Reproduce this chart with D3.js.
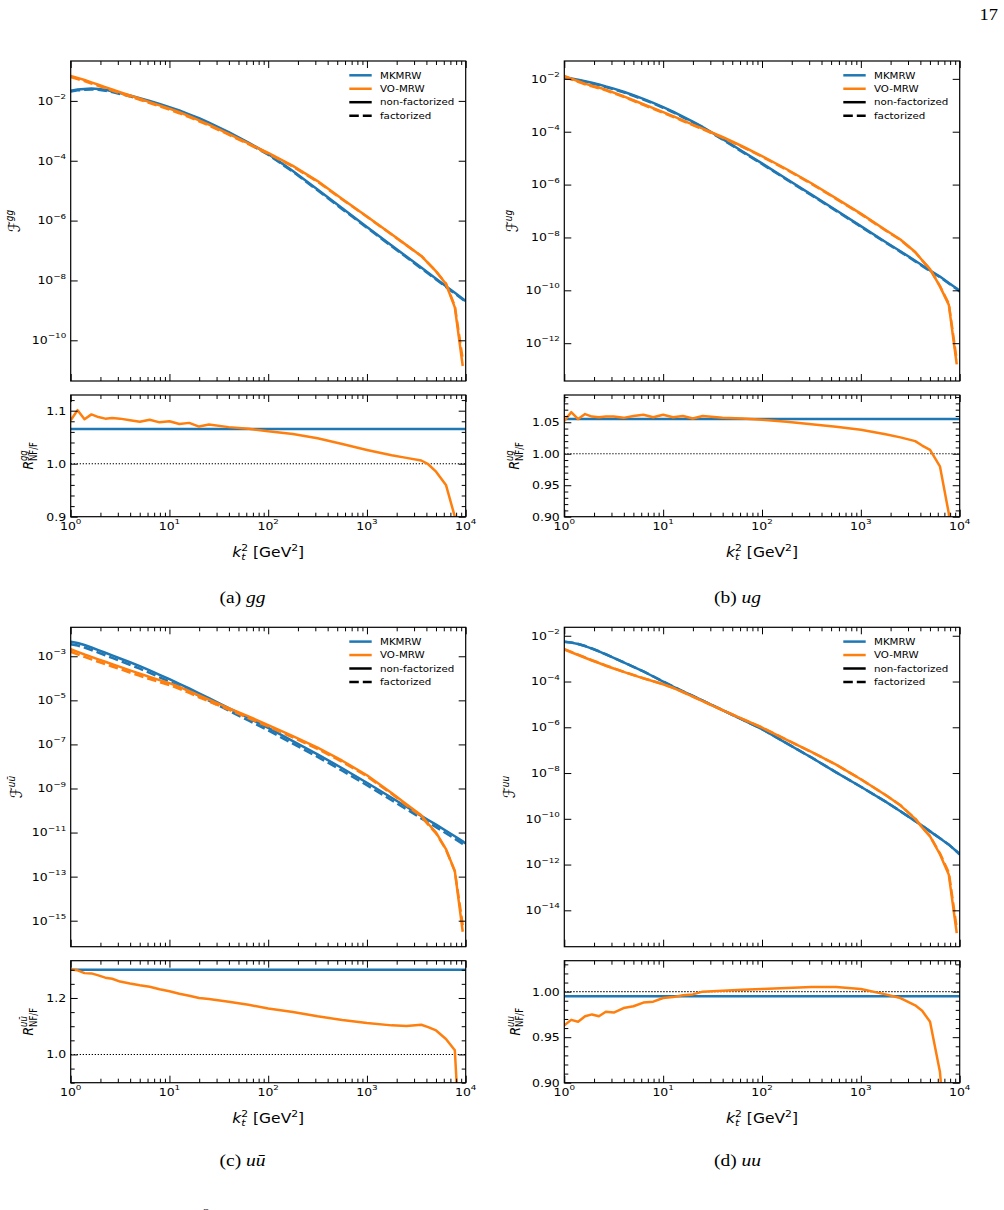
<!DOCTYPE html>
<html>
<head>
<meta charset="utf-8">
<script src="https://cdn.jsdelivr.net/npm/d3@7"></script>
<style>
  body { margin: 0; background: #fff; overflow: hidden; }
  svg { display: block; }
  text { font-family: "DejaVu Sans", sans-serif; fill: #000; }
  .serif { font-family: "Liberation Serif", "DejaVu Serif", serif; }
</style>
</head>
<body>
<script>

// k_t^2 grid shared by all four panels [GeV^2]
const kt2 = [1, 1.175, 1.38, 1.622, 1.905, 2.239, 2.63, 3.162, 3.981, 5.012, 6.31, 7.943, 10, 12.59, 15.85, 19.95,
    25.12, 39.81, 63.1, 100, 177.8, 316.2, 562.3, 1000, 1778, 2512, 3548, 4169, 5012, 6310, 7762, 9333, 10000];

// log10 of the non-factorized luminosity F
const ggMK = [-1.66, -1.62, -1.60, -1.59, -1.60, -1.63, -1.68, -1.74, -1.82, -1.91, -2.00, -2.10, -2.21, -2.32, -2.45, -2.58,
    -2.73, -3.04, -3.39, -3.77, -4.34, -4.96, -5.59, -6.21, -6.83, -7.20, -7.57, -7.74, -7.94, -8.19, -8.41, -8.61, -8.69];
const ggVO = [-1.17, -1.23, -1.30, -1.38, -1.46, -1.54, -1.62, -1.71, -1.82, -1.93, -2.04, -2.15, -2.26, -2.38, -2.51, -2.65,
    -2.79, -3.10, -3.42, -3.74, -4.17, -4.68, -5.28, -5.86, -6.46, -6.82, -7.18, -7.42, -7.70, -8.12, -8.90, -10.86, null];
const ugMK = [-1.94, -1.985, -2.03, -2.09, -2.15, -2.21, -2.29, -2.37, -2.49, -2.62, -2.76, -2.91, -3.07, -3.24, -3.43, -3.62,
    -3.82, -4.27, -4.74, -5.20, -5.79, -6.38, -6.97, -7.57, -8.17, -8.52, -8.88, -9.05, -9.25, -9.48, -9.72, -9.93, -10.02];
const ugVO = [-1.89, -1.99, -2.09, -2.18, -2.26, -2.33, -2.41, -2.52, -2.66, -2.81, -2.96, -3.11, -3.26, -3.41, -3.57, -3.73,
    -3.88, -4.20, -4.55, -4.92, -5.42, -5.95, -6.52, -7.10, -7.72, -8.08, -8.55, -8.86, -9.20, -9.85, -10.55, -12.80, null];
const uubMK = [-2.34, -2.40, -2.49, -2.60, -2.72, -2.84, -2.96, -3.10, -3.27, -3.45, -3.64, -3.84, -4.04, -4.25, -4.46, -4.68,
    -4.90, -5.35, -5.80, -6.25, -6.85, -7.45, -8.08, -8.74, -9.42, -9.83, -10.24, -10.43, -10.64, -10.92, -11.17, -11.40, -11.50];
const uubVO = [-2.68, -2.80, -2.92, -3.03, -3.14, -3.25, -3.36, -3.48, -3.64, -3.79, -3.94, -4.08, -4.22, -4.39, -4.58, -4.78,
    -4.97, -5.35, -5.73, -6.12, -6.62, -7.15, -7.74, -8.40, -9.20, -9.72, -10.22, -10.60, -11.00, -11.75, -12.75, -15.50, null];
const uuMK = [-2.26, -2.30, -2.36, -2.45, -2.56, -2.68, -2.81, -2.97, -3.16, -3.36, -3.56, -3.78, -4.00, -4.22, -4.43, -4.63,
    -4.84, -5.25, -5.66, -6.08, -6.70, -7.32, -7.97, -8.60, -9.25, -9.67, -10.10, -10.30, -10.55, -10.85, -11.13, -11.43, -11.55];
const uuVO = [-2.60, -2.72, -2.84, -2.96, -3.08, -3.19, -3.31, -3.43, -3.58, -3.72, -3.86, -3.99, -4.12, -4.28, -4.46, -4.66,
    -4.86, -5.25, -5.63, -6.01, -6.55, -7.08, -7.63, -8.27, -8.96, -9.41, -10.00, -10.38, -10.77, -11.55, -12.45, -15.00, null];

// ratio R = non-factorized / factorized (lower plots)
const ggVOratio = [1.082, 1.101, 1.084, 1.093, 1.088, 1.085, 1.086, 1.085, 1.082, 1.079, 1.083, 1.078, 1.080, 1.075, 1.077, 1.070,
    1.074, 1.069, 1.066, 1.061, 1.056, 1.048, 1.037, 1.026, 1.016, 1.011, 1.006, 0.999, 0.985, 0.960, 0.900, 0.600, null];
const ugVOratio = [1.052, 1.066, 1.055, 1.063, 1.059, 1.058, 1.059, 1.059, 1.057, 1.060, 1.062, 1.058, 1.062, 1.058, 1.060, 1.056,
    1.060, 1.057, 1.056, 1.054, 1.051, 1.047, 1.043, 1.038, 1.031, 1.026, 1.020, 1.013, 1.006, 0.980, 0.905, 0.700, null];
const uubVOratio = [1.301, 1.298, 1.288, 1.287, 1.280, 1.272, 1.268, 1.258, 1.251, 1.245, 1.240, 1.231, 1.224, 1.215, 1.208, 1.200,
    1.196, 1.187, 1.176, 1.163, 1.150, 1.135, 1.122, 1.111, 1.103, 1.101, 1.105, 1.097, 1.085, 1.055, 1.015, 0.500, null];
const uuVOratio = [0.963, 0.969, 0.967, 0.973, 0.975, 0.973, 0.978, 0.977, 0.982, 0.984, 0.988, 0.989, 0.993, 0.994, 0.996, 0.997,
    1.000, 1.001, 1.002, 1.003, 1.004, 1.005, 1.005, 1.003, 0.997, 0.993, 0.985, 0.979, 0.967, 0.912, 0.800, 0.600, null];
// MKMRW ratio is flat
const mkRatio = {gg: 1.0655, ug: 1.055, uub: 1.30, uu: 0.995};

const legendLabels = ["MKMRW", "VO-MRW", "non-factorized", "factorized"];

const blue = "#1f77b4", orange = "#ff7f0e";
const SY = 0.85;   // the page picture is squeezed vertically, so text is too

// layout of the four sub-figures
const panels = [
    {key: "gg", sup: "gg", cap: "(a) ", x0: 70.7, x1: 465.7, yM: [61, 381], yR: [395, 516.7],
        mainExp: [-11.36, -0.667], mainTicks: [-2, -4, -6, -8, -10],
        rDom: [0.9, 1.1296], rMajor: [0.9, 1.0, 1.1], rDec: 1, rMinor: 0.02,
        mk: ggMK, vo: ggVO, voR: ggVOratio, fLab: -51, rLab: -37.5, capX: 242.5, capY: 602.5},
    {key: "ug", sup: "ug", cap: "(b) ", x0: 564.3, x1: 959.7, yM: [61, 381], yR: [395, 516.7],
        mainExp: [-13.43, -1.325], mainTicks: [-2, -4, -6, -8, -10, -12],
        rDom: [0.9, 1.0933], rMajor: [0.9, 0.95, 1.0, 1.05], rDec: 2, rMinor: 0.01,
        mk: ugMK, vo: ugVO, voR: ugVOratio, fLab: -46, rLab: -45, capX: 737.5, capY: 602.5},
    {key: "uub", sup: "u\u016B", cap: "(c) ", x0: 70.7, x1: 465.7, yM: [627.3, 946.7], yR: [960.7, 1082.7],
        mainExp: [-16.18, -1.685], mainTicks: [-3, -5, -7, -9, -11, -13, -15],
        rDom: [0.9, 1.332], rMajor: [1.0, 1.2], rDec: 1, rMinor: 0.05,
        mk: uubMK, vo: uubVO, voR: uubVOratio, fLab: -49, rLab: -37.5, capX: 242.5, capY: 1166},
    {key: "uu", sup: "uu", cap: "(d) ", x0: 564.3, x1: 959.7, yM: [627.3, 946.7], yR: [960.7, 1082.7],
        mainExp: [-15.59, -1.63], mainTicks: [-2, -4, -6, -8, -10, -12, -14],
        rDom: [0.9, 1.034], rMajor: [0.9, 0.95, 1.0], rDec: 2, rMinor: 0.01,
        mk: uuMK, vo: uuVO, voR: uuVOratio, fLab: -49, rLab: -44.5, capX: 737.5, capY: 1166}
];

const svg = d3.select("body").append("svg").attr("width", 1004).attr("height", 1210);
svg.append("rect").attr("width", 1004).attr("height", 1210).attr("fill", "#fff");
const defs = svg.append("defs");

// text squeezed like the rest of the page
function stext(g, x, y, size, rotate) {
    return g.append("g")
        .attr("transform", "translate(" + x + "," + y + ") scale(1," + SY + ")" + (rotate ? " rotate(-90)" : ""))
        .append("text")
        .attr("font-size", size);
}

function centre(t) {
    const b = t.node().getBBox();
    t.attr("x", -(b.x + b.width / 2));
}

function pow10(t, e, size) {
    t.append("tspan").text("10");
    t.append("tspan").attr("font-size", size * 0.7).attr("dy", -size * 0.55)
        .text(e < 0 ? "\u2212" + (-e) : String(e));
}

const tickFs = 12.5;
const xMajor = [1, 10, 100, 1000, 10000];
const xMinor = [];
[1, 10, 100, 1000].forEach(d => d3.range(2, 10).forEach(m => xMinor.push(d * m)));

// ticks pointing inwards on all four sides
function frameTicks(g, x, y, top, bottom, yMajor, yMinor) {
    const add = (axis, tr) => g.append("g").attr("transform", tr).call(axis)
        .call(a => a.select(".domain").remove());
    [[7, xMajor], [4, xMinor]].forEach(([len, vals]) => {
        add(d3.axisBottom(x).tickValues(vals).tickSize(-len).tickFormat(""), "translate(0," + bottom + ")");
        add(d3.axisTop(x).tickValues(vals).tickSize(-len).tickFormat(""), "translate(0," + top + ")");
    });
    [[7, yMajor], [4, yMinor]].forEach(([len, vals]) => {
        add(d3.axisLeft(y).tickValues(vals).tickSize(-len).tickFormat(""), "translate(" + x.range()[0] + ",0)");
        add(d3.axisRight(y).tickValues(vals).tickSize(-len).tickFormat(""), "translate(" + x.range()[1] + ",0)");
    });
    g.selectAll(".tick line").attr("stroke", "#000").attr("stroke-width", 1);
    g.append("rect")
        .attr("x", x.range()[0]).attr("y", top)
        .attr("width", x.range()[1] - x.range()[0]).attr("height", bottom - top)
        .attr("fill", "none").attr("stroke", "#000").attr("stroke-width", 1.2);
}

panels.forEach((p, pi) => {
    const g = svg.append("g");
    const x = d3.scaleLog().domain([1, 1e4]).range([p.x0, p.x1]);
    const yM = d3.scaleLog().domain([10 ** p.mainExp[0], 10 ** p.mainExp[1]]).range([p.yM[1], p.yM[0]]);
    const yR = d3.scaleLinear().domain(p.rDom).range([p.yR[1], p.yR[0]]);

    const rows = kt2.map((k, i) => ({
        k: k,
        mk: p.mk[i],
        vo: p.vo[i],
        r: p.voR[i]
    }));

    // clip regions
    ["m", "r"].forEach(s => {
        const yy = s === "m" ? p.yM : p.yR;
        defs.append("clipPath").attr("id", "clip-" + s + pi)
            .append("rect").attr("x", p.x0).attr("y", yy[0])
            .attr("width", p.x1 - p.x0).attr("height", yy[1] - yy[0]);
    });

    // ---- main panel
    const gm = g.append("g").attr("clip-path", "url(#clip-m" + pi + ")");
    const lineM = acc => d3.line()
        .defined(d => acc(d) != null)
        .x(d => x(d.k))
        .y(d => yM(10 ** acc(d)));

    const mkF = d => d.mk - Math.log10(mkRatio[p.key]);
    const voF = d => (d.vo == null || d.r == null) ? null : d.vo - Math.log10(d.r);

    const series = [
        {acc: d => d.mk, color: blue, dash: null},
        {acc: mkF, color: blue, dash: "9.5,4"},
        {acc: d => d.vo, color: orange, dash: null},
        {acc: voF, color: orange, dash: "9.5,4"}
    ];
    series.forEach(s => {
        gm.append("path").datum(rows)
            .attr("d", lineM(s.acc))
            .attr("fill", "none")
            .attr("stroke", s.color)
            .attr("stroke-width", 2.5)
            .attr("stroke-dasharray", s.dash)
            .attr("stroke-linejoin", "round");
    });

    frameTicks(g, x, yM, p.yM[0], p.yM[1], p.mainTicks.map(e => 10 ** e), []);

    p.mainTicks.forEach(e => {
        const t = stext(g, p.x0 - 4.5, yM(10 ** e) + 3.9, tickFs).attr("text-anchor", "end");
        pow10(t, e, tickFs);
    });

    // legend
    const legend = [
        {color: blue, dash: null},
        {color: orange, dash: null},
        {color: "#000", dash: null},
        {color: "#000", dash: "9.5,4"}
    ];
    legend.forEach((l, i) => {
        const ly = p.yM[0] + 14.3 + i * 13.45;
        g.append("line")
            .attr("x1", p.x1 - 116.4).attr("x2", p.x1 - 94)
            .attr("y1", ly).attr("y2", ly)
            .attr("stroke", l.color).attr("stroke-width", 2.5)
            .attr("stroke-dasharray", l.dash);
        stext(g, p.x1 - 85.7, ly + 3.2, 10.3).text(legendLabels[i]);
    });

    // main y label: script F with channel superscript
    const fl = stext(g, p.x0 + p.fLab, (p.yM[0] + p.yM[1]) / 2, 16.5, true);
    fl.append("tspan").text("\u2131");
    fl.append("tspan").attr("font-size", 10.5).attr("font-style", "italic").attr("dy", -6.5).text(p.sup);
    centre(fl);

    // ---- ratio panel
    const gr = g.append("g").attr("clip-path", "url(#clip-r" + pi + ")");
    gr.append("line")
        .attr("x1", p.x0).attr("x2", p.x1)
        .attr("y1", yR(1)).attr("y2", yR(1))
        .attr("stroke", "#000").attr("stroke-width", 1.1)
        .attr("stroke-dasharray", "1.3,1.7");
    gr.append("line")
        .attr("x1", p.x0).attr("x2", p.x1)
        .attr("y1", yR(mkRatio[p.key])).attr("y2", yR(mkRatio[p.key]))
        .attr("stroke", blue).attr("stroke-width", 2.5);
    gr.append("path").datum(rows)
        .attr("d", d3.line().defined(d => d.r != null).x(d => x(d.k)).y(d => yR(d.r)))
        .attr("fill", "none")
        .attr("stroke", orange)
        .attr("stroke-width", 2.5)
        .attr("stroke-linejoin", "round");

    const lo = p.rDom[0], hi = p.rDom[1];
    const minor = d3.range(Math.ceil(lo / p.rMinor - 1e-6), Math.floor(hi / p.rMinor + 1e-6) + 1)
        .map(i => i * p.rMinor)
        .filter(v => !p.rMajor.some(m => Math.abs(m - v) < 1e-6));
    frameTicks(g, x, yR, p.yR[0], p.yR[1], p.rMajor, minor);

    p.rMajor.forEach(v => {
        stext(g, p.x0 - 4.5, yR(v) + 3.9, tickFs).attr("text-anchor", "end").text(v.toFixed(p.rDec));
    });
    xMajor.forEach((v, i) => {
        const t = stext(g, x(v), p.yR[1] + 12.8, tickFs).attr("text-anchor", "middle");
        pow10(t, i, tickFs);
    });

    // ratio y label R^{ch}_{NF/F}
    const rl = stext(g, p.x0 + p.rLab, (p.yR[0] + p.yR[1]) / 2, 14.5, true);
    rl.append("tspan").attr("font-style", "italic").text("R");
    const sp = rl.append("tspan").attr("font-size", 10).attr("font-style", "italic").attr("dy", -6).text(p.sup);
    const spw = sp.node().getComputedTextLength();
    rl.append("tspan").attr("font-size", 10).attr("dx", -spw).attr("dy", 9.5).text("NF/F");
    centre(rl);

    // x label k_t^2 [GeV^2]
    const xl = stext(g, (p.x0 + p.x1) / 2, p.yR[1] + 40, 15.5);
    xl.append("tspan").attr("font-style", "italic").text("k");
    xl.append("tspan").attr("font-size", 10.8).attr("font-style", "italic").attr("dy", 4).text("t");
    xl.append("tspan").attr("font-size", 10.8).attr("dx", -4.2).attr("dy", -11).text("2");
    xl.append("tspan").attr("dy", 7).text(" [GeV");
    xl.append("tspan").attr("font-size", 10.8).attr("dy", -7).text("2");
    xl.append("tspan").attr("dy", 7).text("]");
    centre(xl);

    // sub-figure caption
    const cp = stext(g, p.capX, p.capY, 19.5).attr("class", "serif");
    cp.append("tspan").text(p.cap);
    cp.append("tspan").attr("font-style", "italic").text(p.sup);
    centre(cp);
});

// page number and the top of the next caption line
stext(svg, 998, 20, 18.5).attr("class", "serif").attr("text-anchor", "end").text("17");
stext(svg, 203, 1216, 13).attr("class", "serif").text("2");

</script>
</body>
</html>
